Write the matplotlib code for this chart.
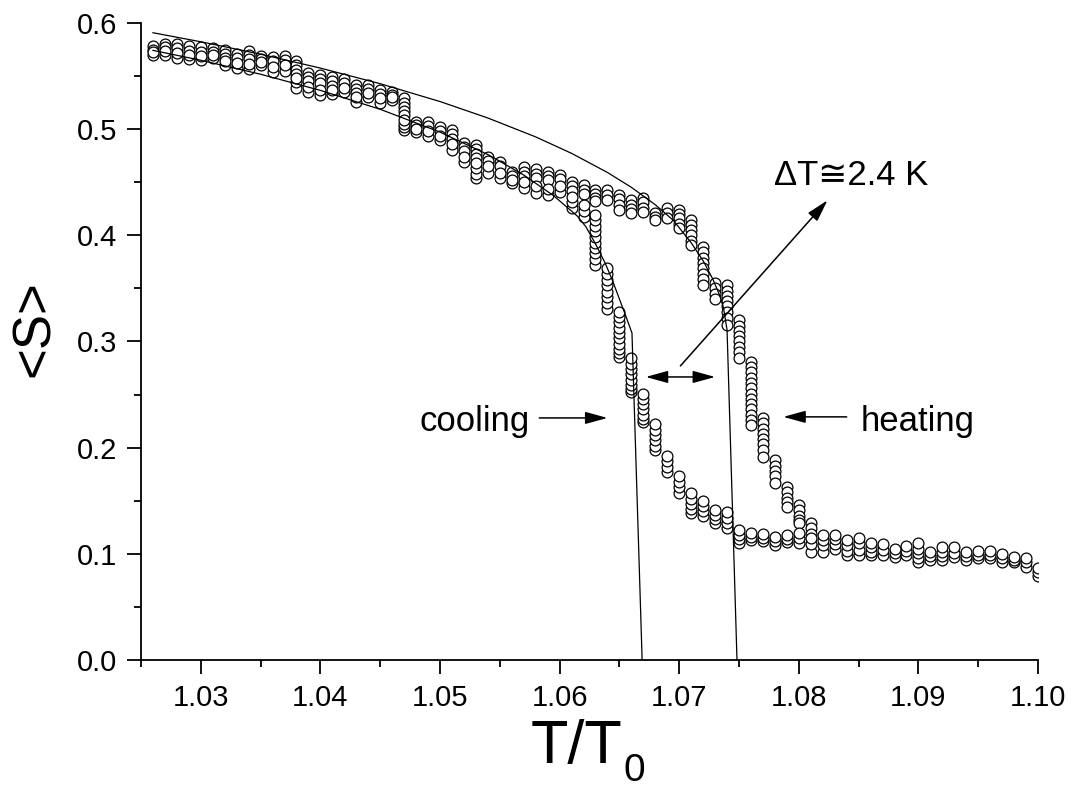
import numpy as np
import matplotlib.pyplot as plt

plt.rcParams['font.family'] = ['Liberation Sans', 'DejaVu Sans']
plt.rcParams['mathtext.fontset'] = 'custom'
plt.rcParams['mathtext.rm'] = 'Liberation Sans'
plt.rcParams['mathtext.it'] = 'Liberation Sans'

# heating run: T/T0 columns and the <S> values recorded at each one (top -> bottom)
heat_T = [1.026, 1.027, 1.028, 1.029, 1.030, 1.031, 1.032, 1.033, 1.034, 1.035,
          1.036, 1.037, 1.038, 1.039, 1.040, 1.041, 1.042, 1.043, 1.044, 1.045,
          1.046, 1.047, 1.048, 1.049, 1.050, 1.051, 1.052, 1.053, 1.054, 1.055,
          1.056, 1.057, 1.058, 1.059, 1.060, 1.061, 1.062, 1.063, 1.064, 1.065,
          1.066, 1.067, 1.068, 1.069, 1.070, 1.071, 1.072, 1.073, 1.074, 1.075,
          1.076, 1.077, 1.078, 1.079, 1.080, 1.081]
heat_S = [
    [0.578, 0.575], [0.580, 0.577], [0.580, 0.576], [0.578, 0.574], [0.577, 0.573],
    [0.576, 0.573], [0.575, 0.571, 0.567], [0.571, 0.567], [0.574, 0.570, 0.566],
    [0.569, 0.566], [0.568, 0.564], [0.569, 0.565], [0.564, 0.560, 0.556, 0.552],
    [0.553, 0.549, 0.545], [0.551, 0.547, 0.543], [0.549, 0.545, 0.541],
    [0.547, 0.543], [0.542, 0.538, 0.534], [0.542, 0.538], [0.537, 0.533],
    [0.535, 0.532], [0.529, 0.525, 0.521, 0.517, 0.513], [0.507, 0.504],
    [0.507, 0.503], [0.502, 0.498], [0.499, 0.495, 0.491], [0.487, 0.483, 0.479],
    [0.485, 0.481, 0.477, 0.473], [0.474, 0.470], [0.469, 0.465], [0.460, 0.456],
    [0.464, 0.460, 0.456], [0.462, 0.458, 0.454], [0.460, 0.456, 0.452],
    [0.457, 0.453], [0.450, 0.446, 0.442], [0.447, 0.443, 0.439],
    [0.443, 0.439, 0.435, 0.432], [0.443, 0.438, 0.433],
    [0.438, 0.434, 0.429, 0.424], [0.433, 0.429, 0.425, 0.421],
    [0.435, 0.431, 0.426, 0.422], [0.421, 0.417, 0.414], [0.426, 0.421, 0.416],
    [0.424, 0.420, 0.416, 0.411, 0.407],
    [0.414, 0.410, 0.405, 0.400, 0.395, 0.391],
    [0.389, 0.384, 0.379, 0.374, 0.369, 0.364, 0.359, 0.353],
    [0.355, 0.350, 0.345, 0.340],
    [0.353, 0.348, 0.343, 0.338, 0.333, 0.328, 0.322, 0.316],
    [0.320, 0.315, 0.310, 0.305, 0.300, 0.295, 0.290, 0.284],
    [0.281, 0.276, 0.271, 0.266, 0.261, 0.256, 0.251, 0.246, 0.241, 0.236, 0.231, 0.226, 0.221],
    [0.228, 0.223, 0.218, 0.213, 0.208, 0.203, 0.198, 0.191],
    [0.188, 0.183, 0.178, 0.173, 0.167],
    [0.163, 0.158, 0.153, 0.149, 0.144],
    [0.146, 0.141, 0.136, 0.132, 0.129],
    [0.129, 0.124, 0.119],
]

# cooling run (top -> bottom, recorded bottom first)
cool_T = [1.026, 1.027, 1.028, 1.029, 1.030, 1.031, 1.032, 1.033, 1.034, 1.035,
          1.036, 1.037, 1.038, 1.039, 1.040, 1.041, 1.042, 1.043, 1.044, 1.045,
          1.046, 1.047, 1.048, 1.049, 1.050, 1.051, 1.052, 1.053, 1.054, 1.055,
          1.056, 1.057, 1.058, 1.059, 1.060, 1.061, 1.062, 1.063, 1.064, 1.065,
          1.066, 1.067, 1.068, 1.069, 1.070, 1.071, 1.072, 1.073, 1.074, 1.075,
          1.076, 1.077, 1.078, 1.079, 1.080, 1.081, 1.082, 1.083, 1.084, 1.085,
          1.086, 1.087, 1.088, 1.089, 1.090, 1.091, 1.092, 1.093, 1.094, 1.095,
          1.096, 1.097, 1.098, 1.099, 1.100]
cool_S = [
    [0.573, 0.570], [0.574, 0.570], [0.572, 0.567], [0.570, 0.566], [0.569, 0.565],
    [0.570, 0.567], [0.564, 0.560], [0.562, 0.558], [0.561, 0.557], [0.563, 0.560],
    [0.559, 0.554], [0.560, 0.555], [0.548, 0.544, 0.539], [0.540, 0.535],
    [0.537, 0.532], [0.537, 0.533], [0.539, 0.535], [0.530, 0.526], [0.534, 0.530],
    [0.529, 0.525], [0.530, 0.527], [0.509, 0.505, 0.502, 0.499], [0.500, 0.497],
    [0.498, 0.494], [0.494, 0.490], [0.486, 0.480], [0.474, 0.469],
    [0.468, 0.463, 0.458, 0.454], [0.465, 0.459], [0.459, 0.454], [0.452, 0.449],
    [0.450, 0.445], [0.446, 0.440], [0.444, 0.438], [0.446, 0.441],
    [0.436, 0.431, 0.426], [0.429, 0.423, 0.417],
    [0.419, 0.414, 0.409, 0.404, 0.398, 0.393, 0.388, 0.383, 0.378, 0.372],
    [0.369, 0.364, 0.358, 0.353, 0.347, 0.342, 0.336, 0.331],
    [0.328, 0.323, 0.318, 0.313, 0.308, 0.303, 0.298, 0.293, 0.289, 0.285],
    [0.284, 0.279, 0.274, 0.269, 0.264, 0.259, 0.255, 0.252],
    [0.251, 0.246, 0.241, 0.236, 0.231, 0.227, 0.224],
    [0.222, 0.217, 0.212, 0.207, 0.202, 0.198],
    [0.192, 0.187, 0.182, 0.177], [0.173, 0.168, 0.163, 0.157],
    [0.157, 0.152, 0.147, 0.142, 0.138], [0.150, 0.145, 0.140, 0.136],
    [0.141, 0.137, 0.133, 0.129], [0.139, 0.134, 0.129, 0.124],
    [0.122, 0.118, 0.114, 0.110], [0.120, 0.116, 0.113], [0.119, 0.115, 0.112],
    [0.116, 0.112, 0.108], [0.118, 0.114, 0.111], [0.120, 0.115, 0.110],
    [0.115, 0.109, 0.102], [0.118, 0.113, 0.108, 0.102], [0.118, 0.114, 0.109, 0.105],
    [0.113, 0.108, 0.103, 0.099], [0.115, 0.110, 0.104, 0.099],
    [0.110, 0.106, 0.102, 0.099], [0.109, 0.104, 0.099], [0.105, 0.101, 0.097],
    [0.107, 0.103, 0.099], [0.110, 0.105, 0.101, 0.096, 0.092], [0.102, 0.098, 0.094],
    [0.106, 0.102, 0.098, 0.094], [0.106, 0.101, 0.097], [0.102, 0.098, 0.094],
    [0.103, 0.099, 0.096], [0.103, 0.099, 0.096], [0.100, 0.096, 0.092],
    [0.097, 0.094, 0.092], [0.096, 0.092, 0.088], [0.087, 0.083, 0.079],
]

# fitted curves
heat_fit_T = [1.0260, 1.0300, 1.0350, 1.0400, 1.0450, 1.0500, 1.0540, 1.0580,
              1.0610, 1.0640, 1.0660, 1.0680, 1.0695, 1.0710, 1.0720, 1.0728,
              1.0734, 1.0737, 1.0740, 1.07453, 1.07483]
heat_fit_S = [0.5908, 0.5823, 0.5706, 0.5575, 0.5428, 0.5260, 0.5105, 0.4927,
              0.4772, 0.4592, 0.4452, 0.4288, 0.4142, 0.3930, 0.3760, 0.3590,
              0.3430, 0.3320, 0.3108, 0.1130, 0.0]
cool_fit_T = [1.0260, 1.0300, 1.0350, 1.0400, 1.0450, 1.0500, 1.0540, 1.0570,
              1.0595, 1.0615, 1.0622, 1.0630, 1.0638, 1.0644, 1.0650, 1.0655,
              1.06605, 1.0669]
cool_fit_S = [0.5742, 0.5649, 0.5517, 0.5365, 0.5187, 0.4972, 0.4761, 0.4568,
              0.4373, 0.4179, 0.4080, 0.3920, 0.3740, 0.3580, 0.3400, 0.3250,
              0.3080, 0.0]

x_ticks = [1.03, 1.04, 1.05, 1.06, 1.07, 1.08, 1.09, 1.10]
y_ticks = [0.0, 0.1, 0.2, 0.3, 0.4, 0.5, 0.6]

fig = plt.figure(figsize=(10.74, 7.95), dpi=100)
ax = fig.add_axes([0.1313, 0.1698, 0.8352, 0.8013])

mk = dict(marker='o', ms=7.8, mfc='white', mec='black', mew=0.9, ls='none')

# heating: each column drawn from top to bottom, higher T later
for T, vals in zip(heat_T, heat_S):
    ax.plot([T] * len(vals), vals, **mk, zorder=2)
# cooling: run from high T to low T, each column from bottom to top
for T, vals in reversed(list(zip(cool_T, cool_S))):
    ax.plot([T] * len(vals), vals[::-1], **mk, zorder=2)

ax.plot(heat_fit_T, heat_fit_S, color='black', lw=0.9, zorder=3)
ax.plot(cool_fit_T, cool_fit_S, color='black', lw=0.9, zorder=3)

# annotations
arr = dict(arrowstyle='-|>,head_length=0.8,head_width=0.22', mutation_scale=17,
           lw=1.1, color='black', shrinkA=0, shrinkB=0)
ax.annotate('', xy=(1.0640, 0.228), xytext=(1.0583, 0.228), arrowprops=arr)
ax.annotate('', xy=(1.0787, 0.229), xytext=(1.0840, 0.229), arrowprops=arr)
ax.annotate('', xy=(1.0824, 0.433), xytext=(1.0701, 0.277), arrowprops=arr)
arr2 = dict(arr, arrowstyle='<|-|>,head_length=0.8,head_width=0.22')
ax.annotate('', xy=(1.0730, 0.2666), xytext=(1.0672, 0.2666), arrowprops=arr2)

ax.text(1.0575, 0.2157, 'cooling', fontsize=25, ha='right', va='baseline')
ax.text(1.0852, 0.2157, 'heating', fontsize=25, ha='left', va='baseline')
ax.text(1.0779, 0.4474, '\u0394T\u22452.4 K', fontsize=25, ha='left', va='baseline')

ax.set_xlim(1.025, 1.10)
ax.set_ylim(0.0, 0.6)
ax.set_xticks(x_ticks)
ax.set_xticks([1.025, 1.035, 1.045, 1.055, 1.065, 1.075, 1.085, 1.095], minor=True)
ax.set_yticks(y_ticks)
ax.set_yticks([0.05, 0.15, 0.25, 0.35, 0.45, 0.55], minor=True)
ax.set_xticklabels(['%.2f' % t for t in x_ticks])
ax.set_yticklabels(['%.1f' % t for t in y_ticks])

for s in ['top', 'right']:
    ax.spines[s].set_visible(False)
for s in ['left', 'bottom']:
    ax.spines[s].set_linewidth(1.3)
ax.tick_params(which='major', direction='out', length=10, width=1.3, labelsize=21, pad=7)
ax.tick_params(which='minor', direction='out', length=5, width=1.3)

# x label: "T/T" with a lowered subscript 0
ax.set_xlabel('T/T', fontsize=44, labelpad=6)
ax.xaxis.set_label_coords(0.485, -0.092)
ax.annotate('0', xy=(1, 0), xycoords=ax.xaxis.label, xytext=(1, -4),
            textcoords='offset points', fontsize=28, ha='left', va='baseline')

ax.set_ylabel('<S>', fontsize=38, family=['Liberation Sans Narrow', 'Liberation Sans'])
ax.yaxis.set_label_coords(-0.09, 0.52)

fig.savefig('out.png', dpi=100)
